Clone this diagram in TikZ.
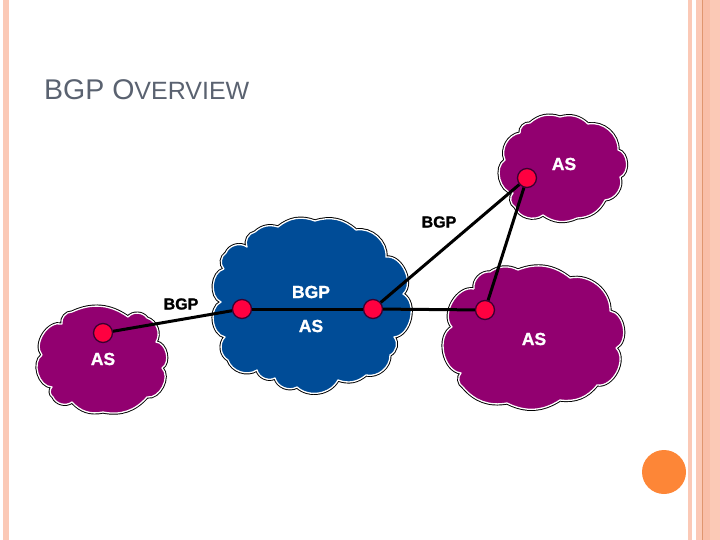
\documentclass[tikz,border=0pt]{standalone}
\usepackage{fontspec}
\setmainfont{Liberation Sans}[BoldFeatures={FakeBold=1.2}]
\definecolor{barpeach}{HTML}{FBC9B6}
\definecolor{barmid}{HTML}{F9BEA8}
\definecolor{barline}{HTML}{E0966F}
\definecolor{dotorange}{HTML}{FD8637}
\definecolor{titlegrey}{HTML}{5A6270}
\definecolor{aspurple}{HTML}{920070}
\definecolor{asblue}{HTML}{004C97}
\definecolor{routerred}{HTML}{FF0040}
\definecolor{routeredge}{HTML}{3A0030}
\tikzset{
  cloudbody/.style={fill=#1, draw=white, line width=1.3pt, line join=round, every to/.style={bend left=52},
    preaction={draw=black, line width=3.2pt}},
  flat/.style={bend left=30},
  deep/.style={bend left=72},
  router/.style={circle, draw=routeredge, fill=routerred, line width=1.3pt, minimum size=19pt, inner sep=0pt},
  whitelabel/.style={text=white, font=\fontsize{17.5}{17.5}\selectfont\bfseries, inner sep=0pt},
  blacklabel/.style={text=black, font=\fontsize{16}{16}\selectfont\bfseries, inner sep=0pt},
  link/.style={draw=black, line width=3pt},
  bar/.style={fill=#1, draw=none},
}
\begin{document}
\begin{tikzpicture}[x=1pt, y=-1pt]
\useasboundingbox (0,0) rectangle (720,540);
% side bars
\path[bar=barpeach] (3,0) rectangle (9,540);
\path[bar=barpeach] (688,0) rectangle (692,540);
\path[bar=barpeach] (696,0) rectangle (703,540);
\path[bar=barmid] (703,0) rectangle (710,540);
\path[bar=barpeach] (710,0) rectangle (720,540);
\path[bar=barline] (702,0) rectangle (703,540);
\node[circle, fill=dotorange, minimum size=44pt, inner sep=0pt] (dot) at (664,472) {};
% title
\node[anchor=base west, inner sep=0pt, text=titlegrey] (title) at (44,100)
  {\fontsize{28.5}{28.5}\selectfont BGP O\fontsize{25}{25}\selectfont VERVIEW};
% clouds
\path[cloudbody=aspurple] (42,355) to[deep] (62,324) to (72,312) to[flat] (128,317) to (147,318) to (156,342)
  to[deep] (162,368) to[deep] (147,397) to[flat] (103,412) to[flat] (72,402) to (53,397) to (52,387) to[deep] (42,355);
\path[cloudbody=asblue] (224,269) to (226,253) to (247,247) to (255,232) to[flat] (278,227) to[flat] (315,221) to[flat] (356,230)
  to (386,257) to[deep] (403,294) to[deep] (394,337) to (390,355) to (366,375) to[flat] (338,380) to (297,387)
  to (275,378) to (257,370) to (228,360) to (225,337) to[deep] (221,302) to[deep] (224,269);
\path[cloudbody=aspurple] (474,289) to (490,272) to[flat] (518,270) to[flat] (570,278) to (610,311) to[deep] (616,348)
  to[deep] (597,385) to[flat] (560,400) to[flat] (507,403) to[flat] (463,387) to (461,373) to[deep] (452,327) to[deep] (474,289);
\path[cloudbody=aspurple] (520,133) to (530,123) to[flat] (560,117) to[flat] (588,124) to (618,150) to[deep] (620,177)
  to (605,200) to[flat] (577,218) to[flat] (543,215) to (515,207) to (513,193) to[deep] (505,160) to (520,133);
% routers
\node[router] (r1) at (103,333) {};
\node[router] (r2) at (242,309) {};
\node[router] (r3) at (373,309) {};
\node[router] (r4) at (485,310) {};
\node[router] (r5) at (527,178) {};
% links
\draw[link] (r1) -- (r2);
\draw[link] (r2) -- (r3);
\draw[link] (r3) -- (r4);
\draw[link] (r3) -- (r5);
\draw[link] (r4) -- (r5);
% labels
\node[blacklabel] (bgpa) at (181,304) {BGP};
\node[blacklabel] (bgpb) at (439,222) {BGP};
\node[whitelabel] (bgpc) at (311,292) {BGP};
\node[whitelabel] (asa) at (311,326) {AS};
\node[whitelabel] (asb) at (103,359) {AS};
\node[whitelabel] (asc) at (564,164) {AS};
\node[whitelabel] (asd) at (534,339) {AS};
\end{tikzpicture}
\end{document}
